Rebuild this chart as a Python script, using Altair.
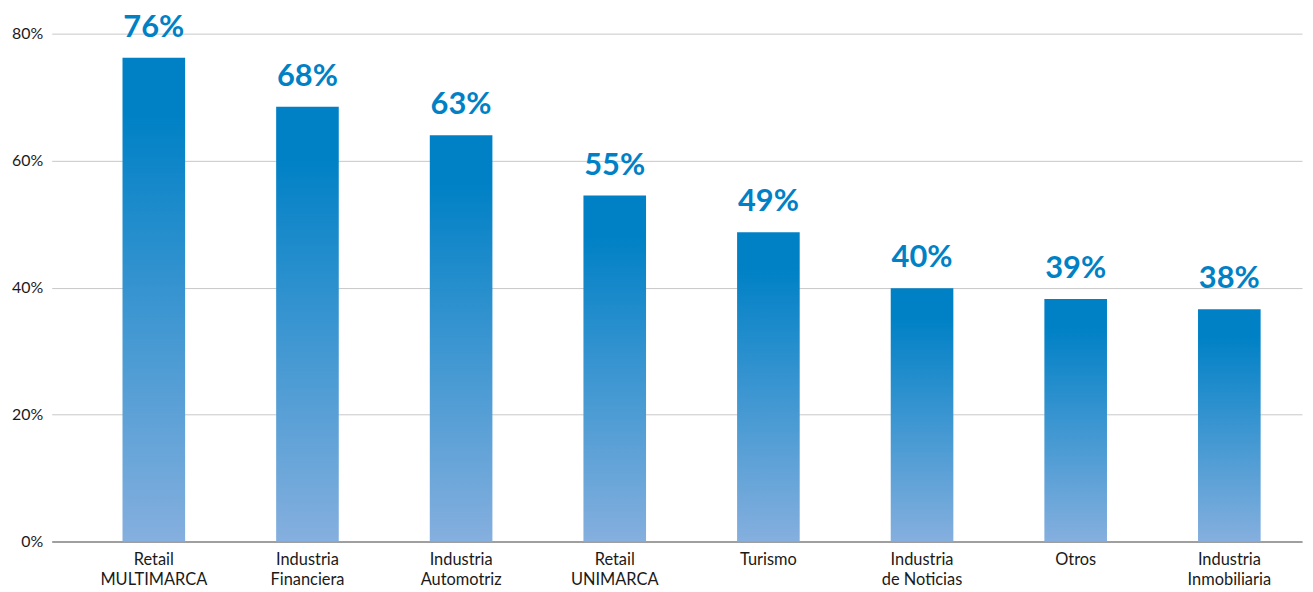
import altair as alt
import pandas as pd

categories = ["Retail|MULTIMARCA", "Industria|Financiera", "Industria|Automotriz",
              "Retail|UNIMARCA", "Turismo", "Industria|de Noticias", "Otros",
              "Industria|Inmobiliaria"]
values = [76.2, 68.5, 64.0, 54.5, 48.7, 39.9, 38.2, 36.6]
labels = ["76%", "68%", "63%", "55%", "49%", "40%", "39%", "38%"]
y_ticks = [0, 20, 40, 60, 80]

df = pd.DataFrame({"cat": categories, "val": values, "lab": labels})

FONT = "Lato"

x = alt.X("cat:N", sort=categories, title=None,
          scale=alt.Scale(paddingInner=0.5925, paddingOuter=0.365, align=0.631),
          axis=alt.Axis(labelAngle=0, labelExpr="split(datum.label, '|')",
                        labelFontSize=16.5, labelFont=FONT, labelColor="#1a1a1a",
                        labelLineHeight=20, labelPadding=10, ticks=False,
                        domainColor="#888888", domainWidth=1.5, grid=False,
                        labelBaseline="top"))
y = alt.Y("val:Q", title=None,
          scale=alt.Scale(domain=[0, 80], nice=False),
          axis=alt.Axis(values=y_ticks, labelExpr="datum.value + '%'",
                        labelFontSize=16, labelFont=FONT, labelColor="#1a1a1a",
                        ticks=False, domain=False, labelPadding=9,
                        gridColor="#c8c8c8", gridWidth=1))

grad = alt.Gradient(gradient="linear", x1=0, x2=0, y1=0, y2=1,
                    stops=[alt.GradientStop(color="#0081C6", offset=0),
                           alt.GradientStop(color="#0081C6", offset=0.12),
                           alt.GradientStop(color="#85AFDE", offset=1)])

bars = alt.Chart(df).mark_bar(fill=grad).encode(x=x, y=y)
text = alt.Chart(df).mark_text(font=FONT, fontWeight="bold", fontSize=31,
                               color="#0081C6", baseline="bottom", dy=-14).encode(
    x=alt.X("cat:N", sort=categories), y="val:Q", text="lab:N")

chart = (bars + text).properties(
    width=1258, height=511,
    autosize=alt.AutoSizeParams(type="none"),
    padding={"left": 44, "top": 24, "right": 3, "bottom": 49},
).configure_view(stroke=None)

chart.save("out.html", embed_options={"renderer": "svg", "actions": False})
